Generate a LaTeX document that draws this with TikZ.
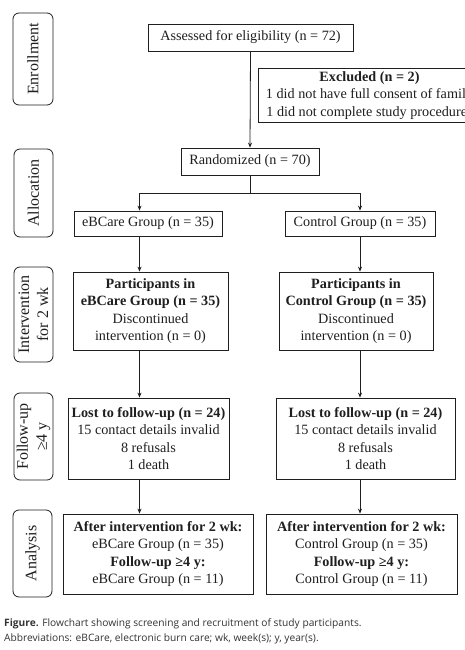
\documentclass[tikz,border=0pt]{standalone}
\usepackage{fontspec}
\setmainfont{Liberation Serif}
\newfontfamily\capfont{Open Sans}
\usetikzlibrary{arrows.meta}
\definecolor{ink}{gray}{0.12}
\definecolor{capink}{gray}{0.2}
\begin{document}
\begin{tikzpicture}[x=1pt,y=-1pt,
  box/.style={draw=ink, line width=0.8pt, rectangle, inner sep=0pt, align=center,
    font=\fontsize{14.2}{17.5}\selectfont, text=ink},
  side/.style={draw=ink, line width=0.8pt, rounded corners=6pt, rotate=90, inner sep=0pt,
    align=center, font=\fontsize{16}{19}\selectfont, text=ink},
  arr/.style={-{Stealth[length=5pt,width=4pt]}, line width=0.8pt, draw=ink},
  ln/.style={line width=0.8pt, draw=ink},
  captext/.style={anchor=base west, inner sep=0pt, font=\capfont\fontsize{10.2}{12}\selectfont, text=capink}]
\useasboundingbox (0,0) rectangle (465,650);
\clip (0,0) rectangle (465,650);
\fill[white] (0,0) rectangle (465,650);

% side labels
\node[side, minimum width=92pt, minimum height=40pt] (sEnr) at (33,59) {Enrollment};
\node[side, minimum width=88pt, minimum height=39pt] (sAll) at (33.5,193) {Allocation};
\node[side, minimum width=95pt, minimum height=39pt] (sInt) at (33.5,314.5) {Intervention\\for 2 wk};
\node[side, minimum width=87pt, minimum height=39pt] (sFol) at (33.5,436.5) {Follow-up\\≥4 y};
\node[side, minimum width=87pt, minimum height=39pt] (sAna) at (32.5,553.5) {Analysis};

% main boxes
\node[box, minimum width=205pt, minimum height=27pt] (assess) at (250.5,37.5) {Assessed for eligibility (n = 72)};
\node[box, minimum width=223pt, minimum height=54pt] (excl) at (369.5,95.5)
  {\textbf{Excluded (n = 2)}\\1 did not have full consent of family\\1 did not complete study procedures};
\node[box, minimum width=138pt, minimum height=27pt] (rand) at (250,161.5) {Randomized (n = 70)};

\node[box, minimum width=148pt, minimum height=25pt] (egrp) at (148,223.5) {eBCare Group (n = 35)};
\node[box, minimum width=150pt, minimum height=25pt] (cgrp) at (360,223.5) {Control Group (n = 35)};

\node[box, minimum width=155pt, minimum height=78pt] (epart) at (150.5,311)
  {\textbf{Participants in}\\\textbf{eBCare Group (n = 35)}\\Discontinued\\intervention (n = 0)};
\node[box, minimum width=154pt, minimum height=78pt] (cpart) at (356,311)
  {\textbf{Participants in}\\\textbf{Control Group (n = 35)}\\Discontinued\\intervention (n = 0)};

\node[box, minimum width=161pt, minimum height=81pt] (elost) at (148.5,438.5)
  {\textbf{Lost to follow-up (n = 24)}\\15 contact details invalid\\8 refusals\\1 death};
\node[box, minimum width=179pt, minimum height=81pt] (clost) at (365.5,438.5)
  {\textbf{Lost to follow-up (n = 24)}\\15 contact details invalid\\8 refusals\\1 death};

\node[box, minimum width=190pt, minimum height=80pt] (eana) at (158,554)
  {\textbf{After intervention for 2 wk:}\\eBCare Group (n = 35)\\\textbf{Follow-up ≥4 y:}\\eBCare Group (n = 11)};
\node[box, minimum width=191pt, minimum height=80pt] (cana) at (361.5,554)
  {\textbf{After intervention for 2 wk:}\\Control Group (n = 35)\\\textbf{Follow-up ≥4 y:}\\Control Group (n = 11)};

% column coordinates
\coordinate (colL) at (139.5,0);
\coordinate (colR) at (360,0);
\coordinate (split) at (250,193);

% connectors
\draw[arr] (assess.south) -- (rand.north);
\draw[ln] (rand.south) -- (split);
\draw[arr] (split) -| (egrp.north -| colL);
\draw[arr] (split) -| (cgrp.north -| colR);
\draw[arr] (egrp.south -| colL) -- (epart.north -| colL);
\draw[arr] (cgrp.south -| colR) -- (cpart.north -| colR);
\draw[arr] (epart.south -| colL) -- (elost.north -| colL);
\draw[arr] (cpart.south -| colR) -- (clost.north -| colR);
\draw[arr] (elost.south -| colL) -- (eana.north -| colL);
\draw[arr] (clost.south -| colR) -- (cana.north -| colR);

% caption
\node[captext] (cap1) at (4,626) {\textbf{Figure.} Flowchart showing screening and recruitment of study participants.};
\node[captext] (cap2) at (4,641) {Abbreviations: eBCare, electronic burn care; wk, week(s); y, year(s).};
\end{tikzpicture}
\end{document}
